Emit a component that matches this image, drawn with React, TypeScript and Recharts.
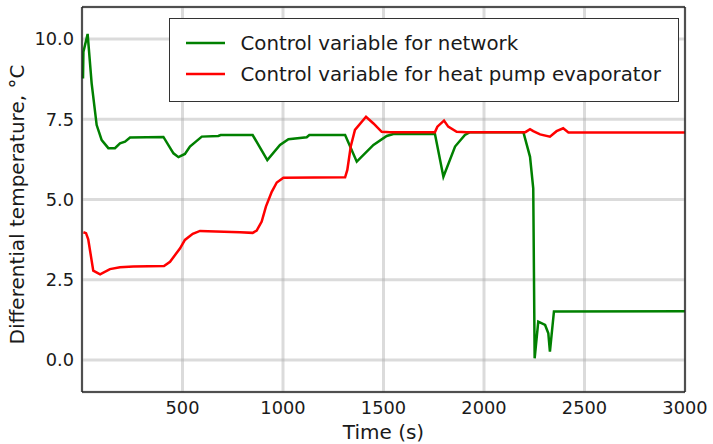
import { CartesianGrid, Legend, Line, LineChart, XAxis, YAxis } from 'recharts'

const networkTime = [
  5, 7, 28, 48, 73, 98, 131, 164, 189, 214, 239, 405, 455, 480, 512, 537, 596, 678, 690, 849, 922, 985, 1027,
  1118, 1131, 1309, 1367, 1450, 1516, 1549, 1756, 1798, 1856, 1905, 1930, 2196, 2229, 2245, 2252, 2270, 2304,
  2320, 2328, 2348, 3000,
]
const networkValue = [
  8.77, 9.6, 10.16, 8.62, 7.32, 6.85, 6.6, 6.6, 6.75, 6.8, 6.93, 6.95, 6.44, 6.32, 6.42, 6.65, 6.96, 6.98, 7.01,
  7.01, 6.23, 6.7, 6.88, 6.94, 7.01, 7.01, 6.18, 6.7, 6.98, 7.04, 7.04, 5.71, 6.65, 7.01, 7.1, 7.1, 6.33, 5.35,
  0.05, 1.19, 1.09, 0.83, 0.26, 1.51, 1.52,
]

const evaporatorTime = [
  7, 20, 31, 56, 90, 139, 189, 255, 408, 438, 488, 512, 551, 587, 786, 849, 869, 894, 915, 944, 969, 1002, 1309,
  1320, 1337, 1358, 1413, 1450, 1491, 1532, 1756, 1768, 1801, 1822, 1864, 1914, 2206, 2229, 2245, 2279, 2328,
  2361, 2394, 2420, 3000,
]
const evaporatorValue = [
  3.98, 3.95, 3.76, 2.78, 2.67, 2.83, 2.89, 2.91, 2.93, 3.06, 3.48, 3.74, 3.93, 4.02, 3.98, 3.96, 4.03, 4.31,
  4.78, 5.24, 5.53, 5.68, 5.69, 5.92, 6.65, 7.17, 7.58, 7.37, 7.11, 7.1, 7.1, 7.27, 7.46, 7.27, 7.11, 7.1, 7.1,
  7.19, 7.13, 7.03, 6.96, 7.13, 7.22, 7.09, 7.09,
]

const xTicks = [500, 1000, 1500, 2000, 2500, 3000]
const yTicks = [0, 2.5, 5, 7.5, 10]

const seriesNames = ['Control variable for network', 'Control variable for heat pump evaporator']
const seriesColors = ['#008000', '#ff0000']

const networkData = networkTime.map((t, i) => ({ t, v: networkValue[i] }))
const evaporatorData = evaporatorTime.map((t, i) => ({ t, v: evaporatorValue[i] }))

const font = "'DejaVu Sans', sans-serif"
const tickStyle = { fill: '#1a1a1a', fontSize: 17.8, fontFamily: font }
const labelStyle = { fill: '#1a1a1a', fontSize: 20, fontFamily: font, textAnchor: 'middle' as const }

function LegendBox() {
  return (
    <div
      style={{
        width: 510,
        height: 84,
        border: '1.3px solid #333',
        background: '#fff',
        boxSizing: 'border-box',
        paddingTop: 9,
        fontFamily: font,
        fontSize: 19.8,
        color: '#1a1a1a',
      }}
    >
      {seriesNames.map((name, i) => (
        <div key={name} style={{ display: 'flex', alignItems: 'center', height: 31 }}>
          <svg width={39} height={6} style={{ marginLeft: 16, marginRight: 15.5 }}>
            <line x1={0} y1={3} x2={39} y2={3} stroke={seriesColors[i]} strokeWidth={2.5} />
          </svg>
          <span style={{ whiteSpace: 'nowrap' }}>{name}</span>
        </div>
      ))}
    </div>
  )
}

export default function App() {
  return (
    <div style={{ position: 'absolute', left: 0, top: 0, background: '#fff' }}>
      <LineChart width={713} height={444} margin={{ top: 6, right: 27, bottom: 0, left: 0 }}>
        <CartesianGrid stroke="#b0b0b0" strokeOpacity={0.45} strokeWidth={3} />
        <XAxis
          dataKey="t"
          type="number"
          domain={[0, 3000]}
          ticks={xTicks}
          allowDuplicatedCategory={false}
          height={52}
          tick={tickStyle}
          tickLine={false}
          tickSize={0}
          tickMargin={9}
          axisLine={{ stroke: '#222', strokeWidth: 1.5 }}
          label={{ value: 'Time (s)', position: 'insideBottom', offset: 5, style: labelStyle }}
        />
        <XAxis
          xAxisId="top"
          orientation="top"
          dataKey="t"
          type="number"
          domain={[0, 3000]}
          ticks={xTicks}
          height={1}
          tickSize={-5}
          tickFormatter={() => ''}
          tickLine={{ stroke: '#222' }}
          axisLine={{ stroke: '#222', strokeWidth: 1.5 }}
        />
        <YAxis
          type="number"
          domain={[-1, 11]}
          ticks={yTicks}
          width={82}
          tick={tickStyle}
          tickFormatter={(v: number) => v.toFixed(1)}
          tickLine={false}
          tickSize={0}
          tickMargin={8}
          axisLine={{ stroke: '#222', strokeWidth: 1.5 }}
          label={{
            value: 'Differential temperature, °C',
            angle: -90,
            position: 'insideLeft',
            offset: 17,
            dy: 5,
            style: labelStyle,
          }}
        />
        <YAxis
          yAxisId="right"
          orientation="right"
          type="number"
          domain={[-1, 11]}
          ticks={yTicks}
          width={1}
          tickSize={-5}
          tickFormatter={() => ''}
          tickLine={{ stroke: '#222' }}
          axisLine={{ stroke: '#222', strokeWidth: 1.5 }}
        />
        <Legend
          layout="horizontal"
          align="center"
          verticalAlign="middle"
          wrapperStyle={{ left: 169, top: 17.5, width: 510 }}
          content={() => <LegendBox />}
        />
        <Line
          data={networkData}
          dataKey="v"
          name={seriesNames[0]}
          type="linear"
          stroke={seriesColors[0]}
          strokeWidth={2.5}
          dot={false}
          activeDot={false}
          isAnimationActive={false}
        />
        <Line
          data={evaporatorData}
          dataKey="v"
          name={seriesNames[1]}
          type="linear"
          stroke={seriesColors[1]}
          strokeWidth={2.5}
          dot={false}
          activeDot={false}
          isAnimationActive={false}
        />
      </LineChart>
    </div>
  )
}
